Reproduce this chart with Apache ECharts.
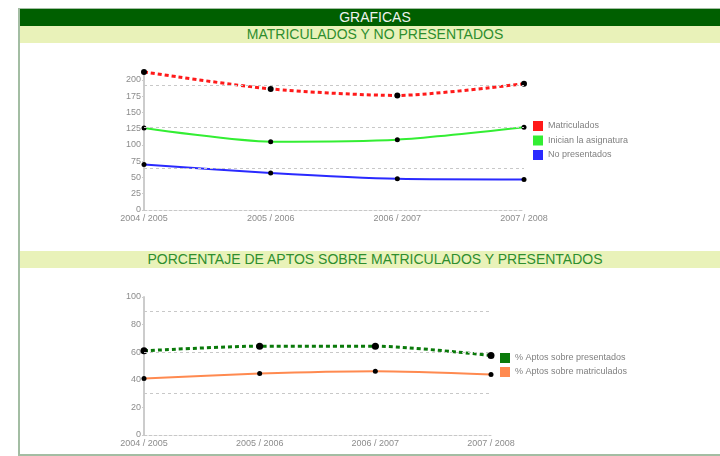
<!DOCTYPE html>
<html>
<head>
<meta charset="utf-8">
<title>Graficas</title>
<script src="https://cdn.jsdelivr.net/npm/echarts@6/dist/echarts.min.js"></script>
<style>
  body { margin: 0; background: #fff; font-family: "Liberation Sans", Arial, sans-serif; }
  #box { position: absolute; left: 18px; top: 8px; width: 712px; height: 444px;
         border: 2px solid #a3bda3; border-right: none; }
  .bar { position: absolute; left: 20px; width: 710px; height: 17px; line-height: 17px;
         text-align: center; font-size: 14px; z-index: 2; }
  .dark { background: #005f00; color: #eef3ee; }
  .light { background: #e9f2b9; color: #2e8e2e; }
  #main { position: absolute; left: 0; top: 0; width: 720px; height: 456px; z-index: 1; }
</style>
</head>
<body>
<div id="box"></div>
<div class="bar dark" style="top:9px">GRAFICAS</div>
<div class="bar light" style="top:26px">MATRICULADOS Y NO PRESENTADOS</div>
<div class="bar light" style="top:251px">PORCENTAJE DE APTOS SOBRE MATRICULADOS Y PRESENTADOS</div>
<div id="main"></div>
<script type="text/javascript">
    // datos
    var cursos = ['2004 / 2005', '2005 / 2006', '2006 / 2007', '2007 / 2008'];
    var matriculados = [212, 186, 176, 194];
    var inician = [126, 105, 108, 127];
    var noPresentados = [70, 57, 48, 47];
    var guias1 = [64, 127.5, 191];

    var aptosPresentados = [61, 64.4, 64.4, 57.6];
    var aptosMatriculados = [40.9, 44.5, 46.2, 43.8];
    var guias2 = [30, 60, 90];

    var myChart = echarts.init(document.getElementById('main'));

    var gris = '#8c8c8c';
    var txt = { color: gris, fontSize: 9, fontFamily: 'Liberation Sans' };

    function guias(vals) {
        return {
            silent: true,
            symbol: 'none',
            label: { show: false },
            lineStyle: { color: '#c8c8c8', type: [3, 3], width: 1 },
            data: vals.map(function (v) { return { yAxis: v }; })
        };
    }

    var option = {
        animation: false,
        grid: [
            { left: 144, top: 72, width: 380, height: 138 },
            { left: 144, top: 297, width: 347, height: 138 }
        ],
        legend: [
            {
                orient: 'vertical', left: 533, top: 121, padding: 0, itemWidth: 10, itemHeight: 10, itemGap: 4.5,
                icon: 'rect', textStyle: { color: '#808080', fontSize: 9, fontFamily: 'Liberation Sans' },
                selectedMode: false,
                data: [
                    { name: 'Matriculados', itemStyle: { color: '#ff1a1a' } },
                    { name: 'Inician la asignatura', itemStyle: { color: '#33ee33' } },
                    { name: 'No presentados', itemStyle: { color: '#2a2aff' } }
                ]
            },
            {
                orient: 'vertical', left: 500, top: 353, padding: 0, itemWidth: 10, itemHeight: 10, itemGap: 4,
                icon: 'rect', textStyle: { color: '#808080', fontSize: 9, fontFamily: 'Liberation Sans' },
                selectedMode: false,
                data: [
                    { name: '% Aptos sobre presentados', itemStyle: { color: '#0a7a0a' } },
                    { name: '% Aptos sobre matriculados', itemStyle: { color: '#ff8a50' } }
                ]
            }
        ],
        xAxis: [
            {
                gridIndex: 0, type: 'category', data: cursos, boundaryGap: false,
                axisLine: { lineStyle: { color: '#c8c8c8', type: [3, 2] } },
                axisTick: { show: false },
                axisLabel: Object.assign({ margin: 4 }, txt)
            },
            {
                gridIndex: 1, type: 'category', data: cursos, boundaryGap: false,
                axisLine: { lineStyle: { color: '#c8c8c8', type: [3, 2] } },
                axisTick: { show: false },
                axisLabel: Object.assign({ margin: 4 }, txt)
            }
        ],
        yAxis: [
            {
                gridIndex: 0, type: 'value', min: 0, max: 212, interval: 25,
                axisLine: { show: true, lineStyle: { color: '#cccccc', width: 2 } },
                axisTick: { show: true, length: 2, lineStyle: { color: '#cccccc' } },
                axisLabel: Object.assign({ margin: 3, showMaxLabel: false }, txt),
                splitLine: { show: false }
            },
            {
                gridIndex: 1, type: 'value', min: 0, max: 100, interval: 20,
                axisLine: { show: true, lineStyle: { color: '#cccccc', width: 2 } },
                axisTick: { show: true, length: 2, lineStyle: { color: '#cccccc' } },
                axisLabel: Object.assign({ margin: 3 }, txt),
                splitLine: { show: false }
            }
        ],
        series: [
            {
                name: 'Matriculados', type: 'line', xAxisIndex: 0, yAxisIndex: 0, data: matriculados,
                smooth: 0.25, symbol: 'circle', symbolSize: 6,
                itemStyle: { color: '#000' },
                lineStyle: { color: '#ff1a1a', width: 3, type: [4, 3] },
                markLine: guias(guias1), z: 3
            },
            {
                name: 'Inician la asignatura', type: 'line', xAxisIndex: 0, yAxisIndex: 0, data: inician,
                smooth: 0.25, symbol: 'circle', symbolSize: 5,
                itemStyle: { color: '#000' },
                lineStyle: { color: '#33ee33', width: 2 }
            },
            {
                name: 'No presentados', type: 'line', xAxisIndex: 0, yAxisIndex: 0, data: noPresentados,
                smooth: 0.25, symbol: 'circle', symbolSize: 5,
                itemStyle: { color: '#000' },
                lineStyle: { color: '#2a2aff', width: 2 }
            },
            {
                name: '% Aptos sobre presentados', type: 'line', xAxisIndex: 1, yAxisIndex: 1, data: aptosPresentados,
                smooth: 0.25, symbol: 'circle', symbolSize: 7,
                itemStyle: { color: '#000' },
                lineStyle: { color: '#0a7a0a', width: 3, type: [4, 3] },
                markLine: guias(guias2), z: 3
            },
            {
                name: '% Aptos sobre matriculados', type: 'line', xAxisIndex: 1, yAxisIndex: 1, data: aptosMatriculados,
                smooth: 0.25, symbol: 'circle', symbolSize: 5,
                itemStyle: { color: '#000' },
                lineStyle: { color: '#ff8a50', width: 2 }
            }
        ]
    };

    myChart.setOption(option);
</script>
</body>
</html>
